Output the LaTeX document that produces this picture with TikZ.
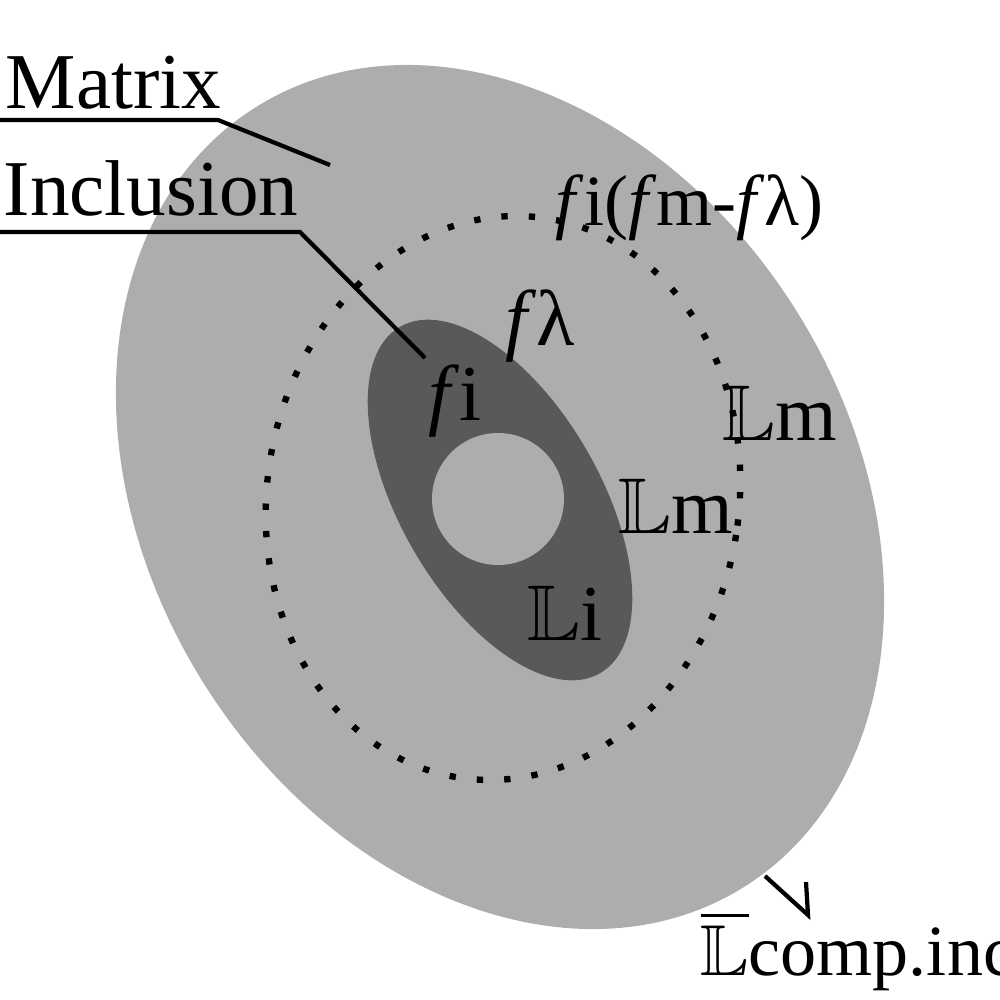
\documentclass[tikz,border=0pt]{standalone}
\usepackage{amssymb}
\usepackage{fontspec}
\setmainfont{Liberation Serif}
\begin{document}
\begin{tikzpicture}[x=0.01cm,y=-0.01cm,
  lbl/.style={anchor=base west,inner sep=0pt,font=\fontsize{22.5}{27}\selectfont},
  sml/.style={anchor=base west,inner sep=0pt,font=\fontsize{20.5}{25}\selectfont},
  lead/.style={line width=1.2pt}]
\useasboundingbox (0,0) rectangle (1000,1000);
\definecolor{lg}{HTML}{ADADAD}
\definecolor{dg}{HTML}{595959}
\fill[lg] (500,497) ellipse[x radius=460,y radius=350,rotate=-58];
\draw[line width=1.8pt,dash pattern=on 1.8pt off 6pt] (503,498) ellipse[x radius=236,y radius=283,rotate=-9];
\fill[dg] (500,500) ellipse[x radius=200,y radius=100,rotate=-60];
\fill[lg] (498,499) circle[radius=66];
\node[lbl] (mat) at (5,108) {Matrix};
\node[lbl] (inc) at (3,215) {Inclusion};
\coordinate (m0) at (0,120); \coordinate (m1) at (218,120); \coordinate (m2) at (330,165);
\coordinate (i0) at (0,232); \coordinate (i1) at (300,232); \coordinate (i2) at (425,358);
\draw[lead] (m0) -- (m1) -- (m2);
\draw[lead] (i0) -- (i1) -- (i2);
\node[sml] (fifm) at (555,225) {\textit{f}i(\textit{f}m-\textit{f}λ)};
\node[lbl] (fl) at (505,345) {\textit{f}λ};
\node[lbl] (fi) at (428,420) {\textit{f}i};
\node[lbl] (lm1) at (722,440) {$\mathbb{L}$m};
\node[lbl] (lm2) at (618,533) {$\mathbb{L}$m};
\node[lbl] (li) at (527,640) {$\mathbb{L}$i};
\node[sml] (lc) at (700,975) {$\overline{\mathbb{L}}$comp.inc.};
\coordinate (a0) at (765,876); \coordinate (a1) at (808,915); \coordinate (a2) at (806,882);
\draw[lead] (a0) -- (a1) -- (a2);
\end{tikzpicture}
\end{document}
